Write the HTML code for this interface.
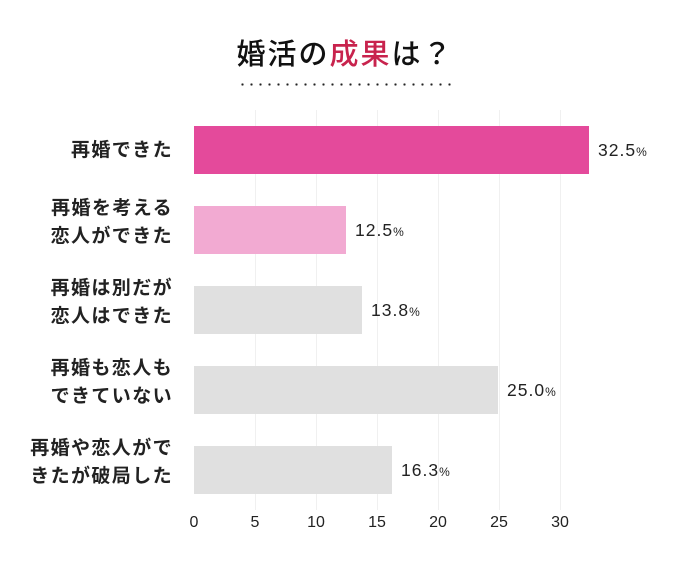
<!DOCTYPE html>
<html><head><meta charset="utf-8"><style>
body{margin:0;width:690px;height:574px;background:#fff;position:relative;overflow:hidden;font-family:"Liberation Sans","Noto Sans CJK JP",sans-serif;color:#222}
.t{position:absolute;left:0;width:690px;top:31px;text-align:center;font-size:29px;font-weight:500;letter-spacing:2px;color:#111}
.t span{color:#c8234d}
.dots{position:absolute;left:238px;top:83px;width:216px;height:3px;background:radial-gradient(circle,#222 1px,transparent 1.3px) 0 0/9px 3px repeat-x}
.g{position:absolute;top:110px;height:400px;width:1px;background:#f0f0f0}
.bar{position:absolute;left:194px;height:48px}
.v{position:absolute;font-size:17.5px;letter-spacing:1px}
.v small{font-size:12px}
.l{position:absolute;right:517px;text-align:right;font-size:19px;font-weight:600;line-height:28px;letter-spacing:1.4px;white-space:nowrap}
.x{position:absolute;top:514px;font-size:16px;width:40px;text-align:center;margin-left:-20px}
</style></head><body>
<div class="t">婚活の<span>成果</span>は？</div>
<div class="dots"></div>
<div class="g" style="left:255px"></div><div class="g" style="left:316px"></div><div class="g" style="left:377px"></div><div class="g" style="left:438px"></div><div class="g" style="left:499px"></div><div class="g" style="left:560px"></div>
<div class="bar" style="top:126px;width:395px;background:#e44a9b"></div>
<div class="bar" style="top:206px;width:152px;background:#f2aad2"></div>
<div class="bar" style="top:286px;width:168px;background:#e0e0e0"></div>
<div class="bar" style="top:366px;width:304px;background:#e0e0e0"></div>
<div class="bar" style="top:446px;width:198px;background:#e0e0e0"></div>
<div class="v" style="left:598px;top:140px">32.5<small>%</small></div>
<div class="v" style="left:355px;top:220px">12.5<small>%</small></div>
<div class="v" style="left:371px;top:300px">13.8<small>%</small></div>
<div class="v" style="left:507px;top:380px">25.0<small>%</small></div>
<div class="v" style="left:401px;top:460px">16.3<small>%</small></div>
<div class="l" style="top:137px">再婚できた</div>
<div class="l" style="top:195px">再婚を考える<br>恋人ができた</div>
<div class="l" style="top:275px">再婚は別だが<br>恋人はできた</div>
<div class="l" style="top:355px">再婚も恋人も<br>できていない</div>
<div class="l" style="top:435px">再婚や恋人がで<br>きたが破局した</div>
<div class="x" style="left:194px">0</div><div class="x" style="left:255px">5</div><div class="x" style="left:316px">10</div><div class="x" style="left:377px">15</div><div class="x" style="left:438px">20</div><div class="x" style="left:499px">25</div><div class="x" style="left:560px">30</div>
</body></html>
